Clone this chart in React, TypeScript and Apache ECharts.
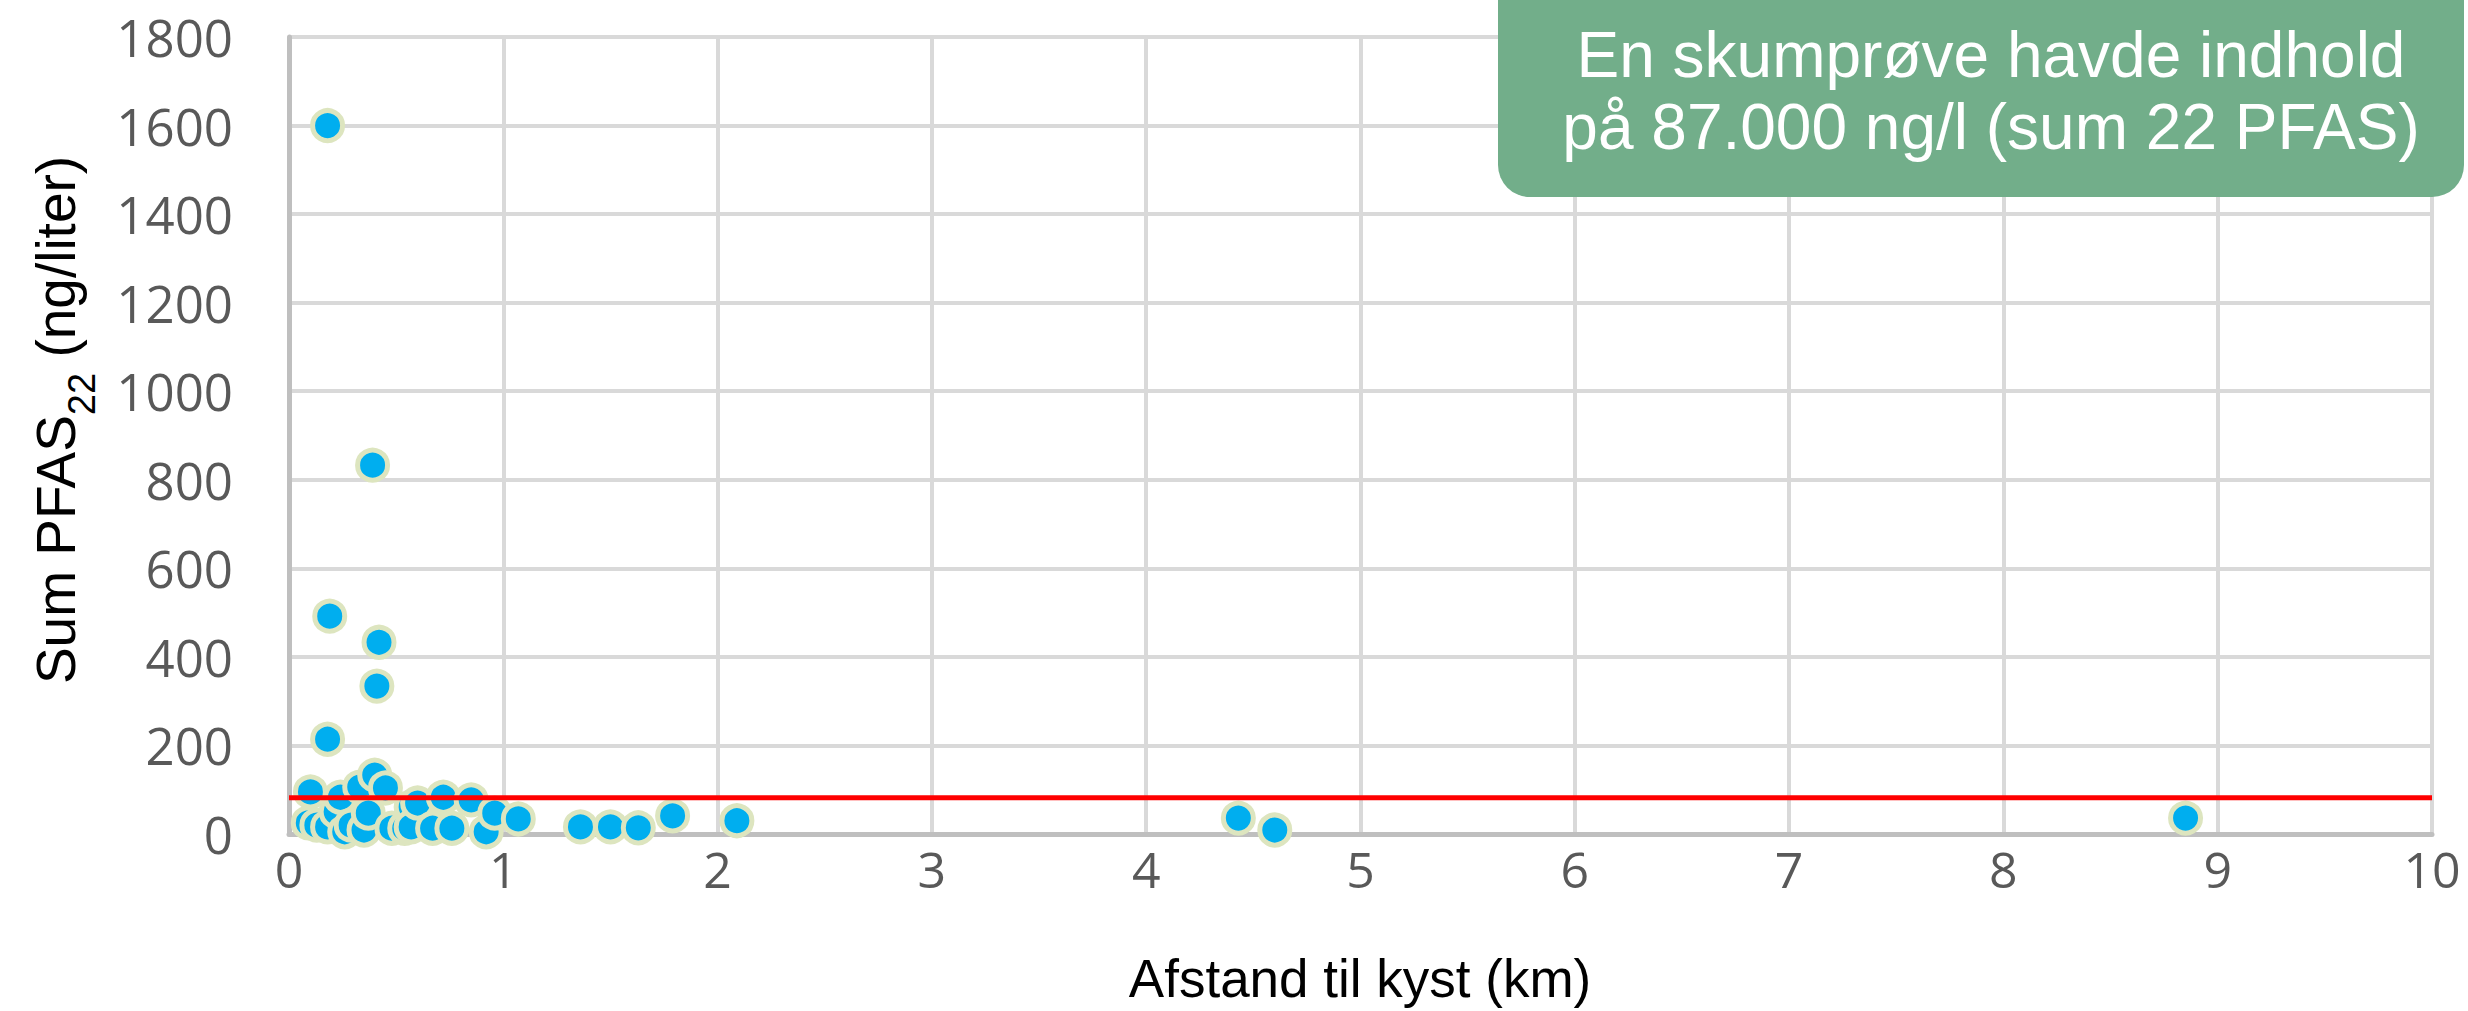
import React, { useEffect, useRef } from "react";
import * as echarts from "echarts";

// distance to coast (km)
const distanceKm: number[] = [
  0.10, 0.09, 0.13, 0.18, 0.19, 0.18, 0.18, 0.22, 0.24, 0.26,
  0.29, 0.33, 0.35, 0.37, 0.39, 0.40, 0.42, 0.41, 0.45, 0.48,
  0.54, 0.57, 0.57, 0.60, 0.67, 0.72, 0.76, 0.85, 0.92, 0.96,
  1.07, 1.36, 1.50, 1.63, 1.79, 2.09, 4.43, 4.60, 8.85,
];
// sum PFAS22 (ng/liter)
const sumPfas: number[] = [
  95, 25, 20, 1600, 492, 214, 16, 50, 83, 5,
  20, 106, 9, 47, 833, 133, 433, 334, 104, 13,
  13, 61, 16, 70, 13, 83, 13, 77, 5, 47,
  34, 16, 16, 14, 41, 30, 36, 9, 36,
];
const THRESHOLD = 82;
const xTicks = { min: 0, max: 10, interval: 1 };
const yTicks = { min: 0, max: 1800, interval: 200 };
const noteLines = ["En skumprøve havde indhold", "på 87.000 ng/l (sum 22 PFAS)"];
const xTitle = "Afstand til kyst (km)";

export default function App() {
  const ref = useRef<HTMLDivElement>(null);
  useEffect(() => {
    document.body.style.margin = "0";
    const chart = echarts.init(ref.current!, null, { renderer: "svg" });
    const points = distanceKm.map((x, i) => [x, sumPfas[i]]);
    chart.setOption({
      animation: false,
      backgroundColor: "#ffffff",
      grid: { left: 289, right: 36, top: 37, bottom: 177 },
      xAxis: {
        type: "value",
        min: xTicks.min,
        max: xTicks.max,
        interval: xTicks.interval,
        axisLine: { show: true, lineStyle: { color: "#BFBFBF", width: 5 } },
        axisTick: { show: false },
        axisLabel: { color: "#595959", fontSize: 50, fontFamily: "Open Sans", margin: 10, formatter: (v: number) => String(v) },
        splitLine: { show: true, lineStyle: { color: "#D9D9D9", width: 4 } },
      },
      yAxis: {
        type: "value",
        min: yTicks.min,
        max: yTicks.max,
        interval: yTicks.interval,
        axisLine: { show: true, lineStyle: { color: "#BFBFBF", width: 5 } },
        axisTick: { show: false },
        axisLabel: { color: "#595959", fontSize: 51, fontFamily: "Open Sans", margin: 56, formatter: (v: number) => String(v) },
        splitLine: { show: true, lineStyle: { color: "#D9D9D9", width: 4 } },
      },
      series: [
        {
          type: "scatter",
          data: points,
          symbol: "circle",
          symbolSize: 30,
          itemStyle: { color: "#00AEEF", borderColor: "#DDE5BF", borderWidth: 5, opacity: 1 },
          z: 2,
        },
        {
          type: "line",
          data: [[xTicks.min, THRESHOLD], [xTicks.max, THRESHOLD]],
          symbol: "none",
          lineStyle: { color: "#FF0000", width: 5 },
          z: 3,
        },
      ],
      graphic: [
        {
          type: "rect",
          shape: { x: 1498, y: -40, width: 966, height: 237, r: 32 },
          style: { fill: "#72AE8A" },
          z: 10,
        },
        {
          type: "text",
          x: 1991,
          y: 55,
          style: {
            text: noteLines[0],
            fill: "#ffffff",
            font: "64px 'Liberation Sans', Arial, sans-serif",
            textAlign: "center",
            textVerticalAlign: "middle",
          },
          z: 11,
        },
        {
          type: "text",
          x: 1991,
          y: 127,
          style: {
            text: noteLines[1],
            fill: "#ffffff",
            font: "64px 'Liberation Sans', Arial, sans-serif",
            textAlign: "center",
            textVerticalAlign: "middle",
          },
          z: 11,
        },
        {
          type: "text",
          x: 1360,
          y: 978,
          style: {
            text: xTitle,
            fill: "#000000",
            font: "53px 'Liberation Sans', Arial, sans-serif",
            textAlign: "center",
            textVerticalAlign: "middle",
          },
        },
        {
          type: "text",
          x: 56,
          y: 420,
          rotation: Math.PI / 2,
          style: {
            text: "{a|Sum PFAS}{s|22}{a| (ng/liter)}",
            textAlign: "center",
            textVerticalAlign: "middle",
            rich: {
              a: { fontSize: 55, fontFamily: "Liberation Sans", color: "#000", lineHeight: 62, verticalAlign: "middle" },
              s: { fontSize: 38, fontFamily: "Liberation Sans", color: "#000", lineHeight: 38, verticalAlign: "bottom", padding: [0, 0, -14, 0] },
            },
          },
        },
      ],
    });
    return () => chart.dispose();
  }, []);
  return <div ref={ref} style={{ position: "absolute", left: 0, top: 0, width: 2468, height: 1011 }} />;
}
